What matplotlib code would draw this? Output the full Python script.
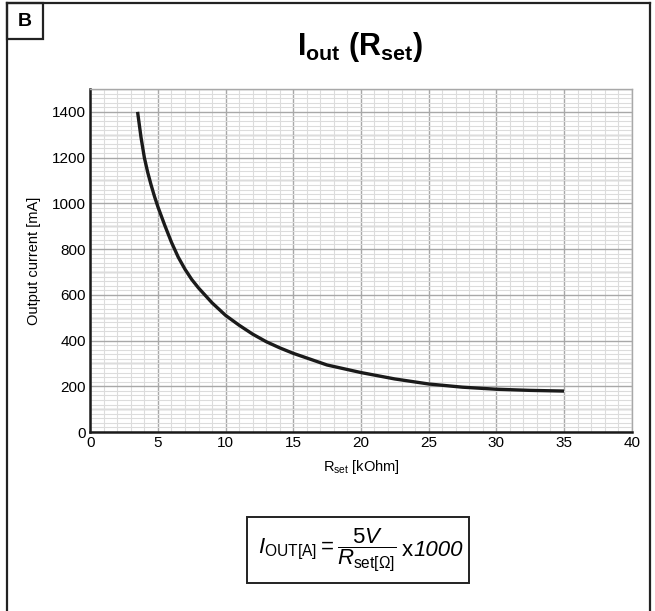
import matplotlib
matplotlib.use("Agg")
import matplotlib.pyplot as plt
from matplotlib.patches import Rectangle
from matplotlib.lines import Line2D
from matplotlib.ticker import MultipleLocator

plt.rcParams['font.family'] = ['Liberation Sans', 'DejaVu Sans']
plt.rcParams['mathtext.fontset'] = 'custom'
plt.rcParams['mathtext.rm'] = 'Liberation Sans'
plt.rcParams['mathtext.it'] = 'Liberation Sans:italic'
plt.rcParams['mathtext.bf'] = 'Liberation Sans:bold'

# values
r_set = [3.5, 3.75, 4.0, 4.25, 4.5, 4.75, 5, 5.5, 6, 6.5, 7, 7.5, 8, 9, 10, 11,
         12, 13, 14, 15, 17.5, 20, 22.5, 25, 27.5, 30, 32.5, 35]
i_out = [1400, 1290, 1200, 1135, 1080, 1030, 985, 905, 830, 765, 712, 667, 630,
         565, 510, 467, 428, 395, 368, 344, 293, 260, 232, 210, 196, 187, 182, 179]

x_ticks = [0, 5, 10, 15, 20, 25, 30, 35, 40]
y_ticks = [0, 200, 400, 600, 800, 1000, 1200, 1400]

fig = plt.figure(figsize=(6.55, 6.11), dpi=100)
W, H = 655, 611

def px(x, y):
    return x / W, 1 - y / H

# outer frame and "B" label box
fig.add_artist(Line2D([7 / W, 7 / W], [0, 1 - 3 / H], color='#222222', lw=1.6))
fig.add_artist(Line2D([7 / W, 650 / W], [1 - 3 / H, 1 - 3 / H], color='#222222', lw=1.6))
fig.add_artist(Line2D([650 / W, 650 / W], [0, 1 - 3 / H], color='#222222', lw=1.6))
fig.add_artist(Rectangle(px(7, 39), 36 / W, 36 / H, fill=False,
                         edgecolor='#222222', lw=1.6))
fig.text(*px(25, 21), 'B', ha='center', va='center', fontsize=14, fontweight='bold')

fig.text(*px(360, 47), r'$\mathbf{I_{out}\ (R_{set})}$', ha='center', va='center',
         fontsize=22)

ax = fig.add_axes([90.2 / W, 179 / H, 541.5 / W, 343 / H])
ax.plot(r_set, i_out, color='#1a1a1a', lw=2.4, solid_capstyle='butt', zorder=5)

ax.set_xlim(0, 40)
ax.set_ylim(0, 1500)
ax.set_xticks(x_ticks)
ax.set_yticks(y_ticks)
ax.xaxis.set_minor_locator(MultipleLocator(1))
ax.yaxis.set_minor_locator(MultipleLocator(20))
ax.grid(which='minor', color='#dcdcdc', lw=0.8, ls='-')
ax.grid(which='major', color='#a8a8a8', lw=1.0, ls='-')
# extra gray lines every 100 mA
for v in range(100, 1600, 200):
    ax.axhline(v, color='#a8a8a8', lw=1.0, ls='-', zorder=0.5)
ax.set_axisbelow(True)
ax.tick_params(which='both', length=0, labelsize=11, pad=3)

for s in ['top', 'right']:
    ax.spines[s].set_color('#a8a8a8')
    ax.spines[s].set_linewidth(1.0)
for s in ['left', 'bottom']:
    ax.spines[s].set_color('#1a1a1a')
    ax.spines[s].set_linewidth(1.8)

ax.set_ylabel('Output current [mA]', fontsize=10.5, labelpad=8)
ax.set_xlabel(r'R$_{\mathrm{set}}$ [kOhm]', fontsize=10.5, labelpad=6)

# formula box
fig.add_artist(Rectangle(px(247, 583), 222 / W, 66 / H, fill=False,
                         edgecolor='#222222', lw=1.4))
fig.text(*px(258, 550),
         r'$I_{\mathrm{OUT[A]}} = \dfrac{5V}{R_{\mathrm{set[\Omega]}}}$',
         ha='left', va='center', fontsize=16)
fig.text(*px(402, 551), 'x', ha='left', va='center', fontsize=16)
fig.text(*px(413, 551), '1000', ha='left', va='center', fontsize=16, style='italic')

fig.savefig('out.png', dpi=100)
